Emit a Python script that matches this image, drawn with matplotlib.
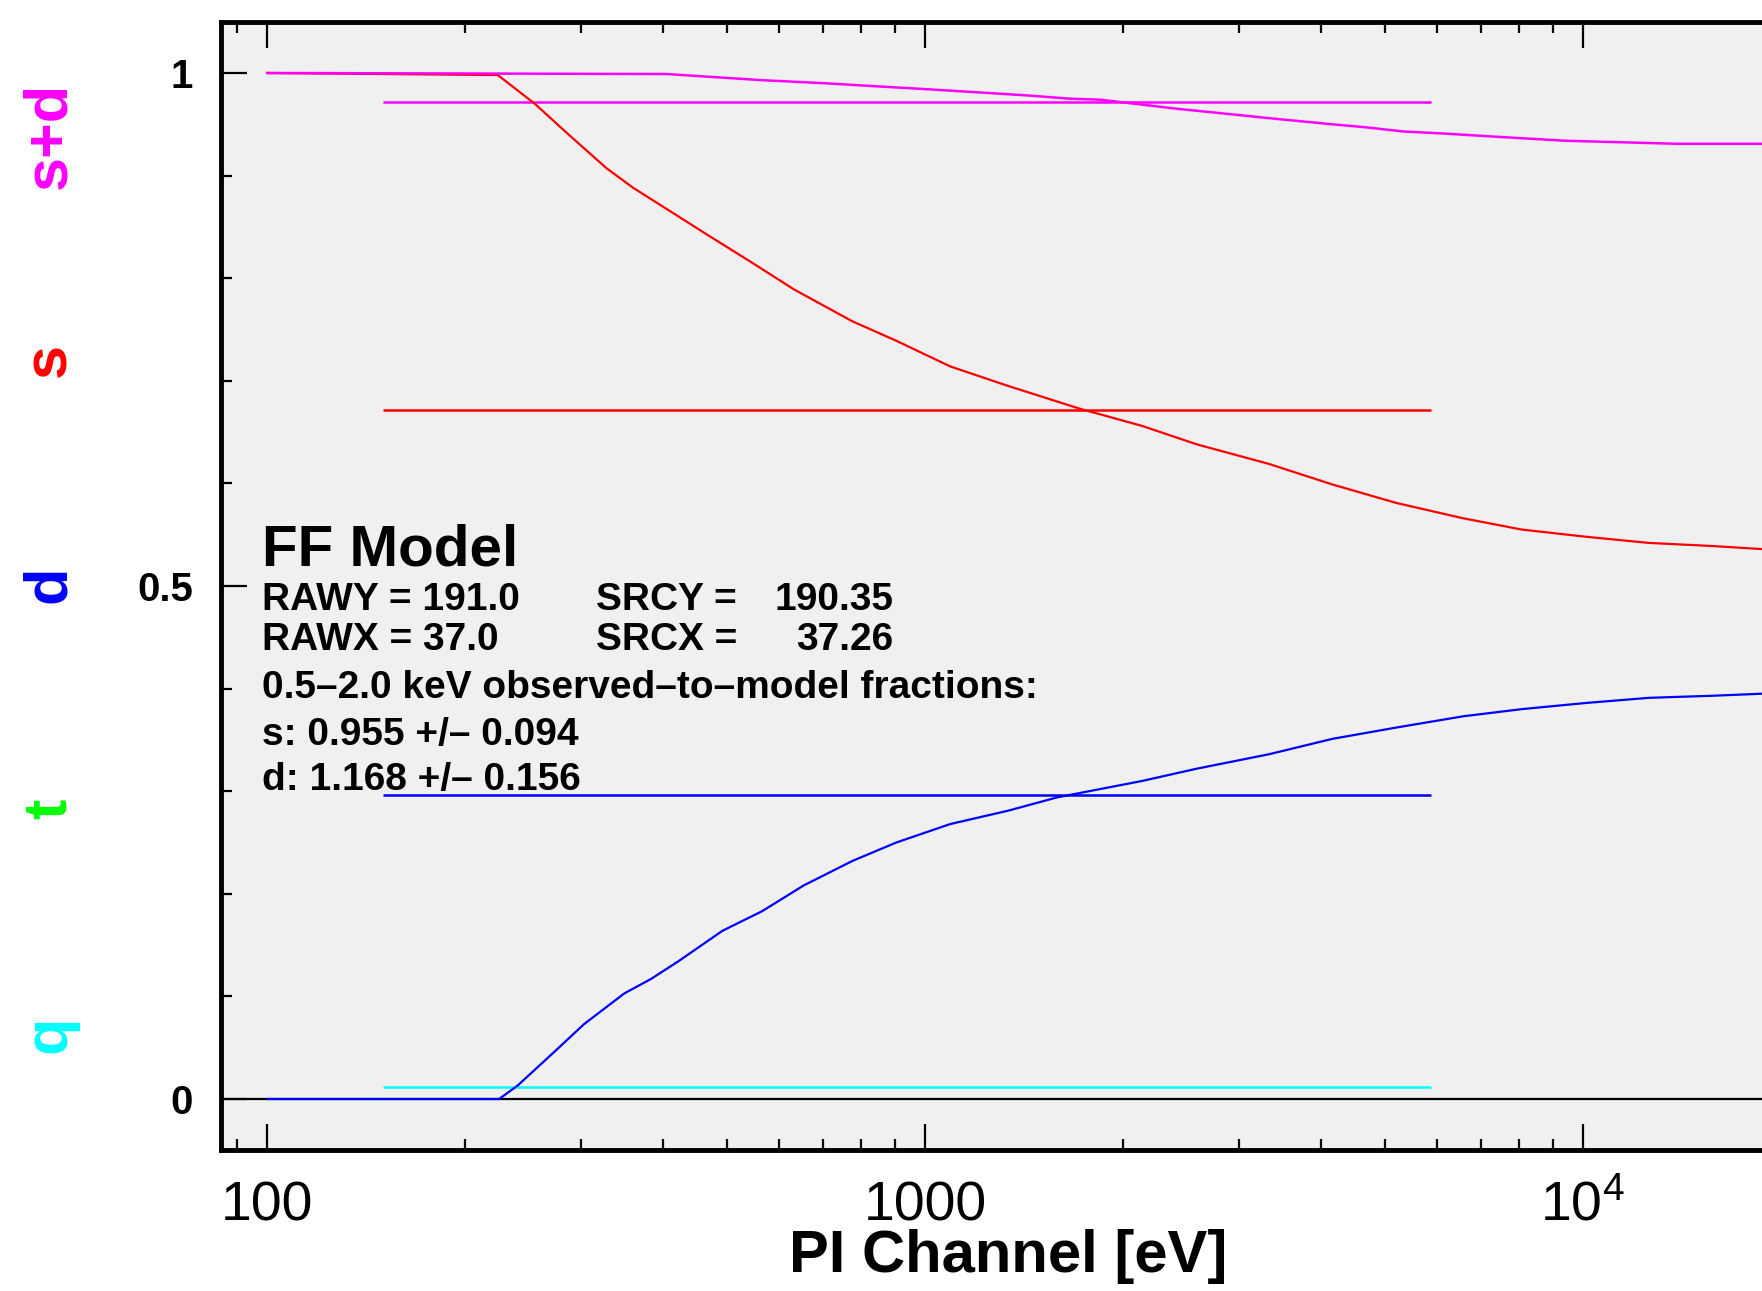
# FF model fractions vs PI channel
import matplotlib.pyplot as plt
from matplotlib.ticker import MultipleLocator

plt.rcParams['font.family'] = ['Liberation Sans', 'DejaVu Sans']
plt.rcParams['mathtext.fontset'] = 'custom'
plt.rcParams['mathtext.rm'] = 'Liberation Sans'
plt.rcParams['mathtext.default'] = 'regular'

# curves (PI channel in eV)
s_x = [100, 224, 255, 287, 328, 360, 408, 462, 549, 632, 775, 904, 1092, 1337, 1714,
       2138, 2590, 3332, 4159, 5200, 6577, 8077, 10110, 12600, 15700, 18700, 20000]
s_y = [1.0, 0.998, 0.970, 0.940, 0.907, 0.888, 0.866, 0.844, 0.814, 0.789, 0.758, 0.739, 0.714, 0.695, 0.673,
       0.656, 0.638, 0.619, 0.599, 0.581, 0.566, 0.555, 0.548, 0.542, 0.539, 0.536, 0.536]

d_x = [100, 225, 240, 272, 303, 349, 383, 421, 492, 565, 653, 775, 904, 1092, 1337, 1588,
       2138, 2590, 3332, 4159, 5200, 6577, 8077, 10110, 12600, 15700, 18700, 20000]
d_y = [0.0, 0.0, 0.013, 0.045, 0.073, 0.103, 0.117, 0.134, 0.164, 0.183, 0.208, 0.232, 0.250, 0.268, 0.281, 0.294,
       0.310, 0.322, 0.336, 0.351, 0.362, 0.373, 0.380, 0.386, 0.391, 0.393, 0.395, 0.395]

sd_x = [100, 404, 565, 705, 845, 1018, 1213, 1440, 1655, 1846, 2148, 2425, 2700, 3000, 3330,
        3720, 4160, 4690, 5330, 6150, 7330, 9370, 13900, 18700, 20000]
sd_y = [1.0, 0.999, 0.993, 0.990, 0.987, 0.984, 0.981, 0.978, 0.975, 0.974, 0.969, 0.965, 0.962, 0.959, 0.956,
        0.953, 0.950, 0.947, 0.943, 0.941, 0.938, 0.934, 0.931, 0.931, 0.931]

# band-averaged levels
band = [150, 5880]
level_sd = 0.972
level_s = 0.672
level_d = 0.296
level_q = 0.012

side_labels = ['s+d', 's', 'd', 't', 'q']
side_colors = ['#ff00ff', '#ff0000', '#0000ff', '#00ff00', '#00ffff']
side_ypix = [135, 360, 584, 809, 1034]

W, H = 1762, 1291
fig = plt.figure(figsize=(W / 100, H / 100), dpi=100)
ax = fig.add_axes([221 / W, 1 - 1150 / H, 0.951, (1150 - 22) / H])
ax.set_facecolor('#f0f0f0')

ax.axhline(0, color='black', lw=1.6, zorder=1)
ax.hlines(level_q, band[0], band[1], color='#00ffff', lw=1.8)
ax.hlines(level_d, band[0], band[1], color='#0000ff', lw=1.8)
ax.hlines(level_s, band[0], band[1], color='#ff0000', lw=1.8)
ax.hlines(level_sd, band[0], band[1], color='#ff00ff', lw=1.8)
ax.plot(d_x, d_y, color='#0000ff', lw=1.6)
ax.plot(s_x, s_y, color='#ff0000', lw=1.6)
ax.plot(sd_x, sd_y, color='#ff00ff', lw=1.8)

ax.set_xscale('log')
ax.set_xlim(85, 30000)
ax.set_ylim(-0.0497, 1.0497)
ax.set_xticks([100, 1000, 10000], labels=['100', '1000', r'$10^4$'])
ax.set_yticks([0, 0.5, 1], labels=['0', '0.5', '1'])
ax.yaxis.set_minor_locator(MultipleLocator(0.1))
ax.tick_params(which='both', direction='in', top=True, right=True, width=1.6)
ax.tick_params(which='major', length=19)
ax.tick_params(which='minor', length=8)
ax.tick_params(axis='x', labelsize=40, pad=22)
ax.tick_params(axis='y', labelsize=29, pad=20)
for lab in ax.get_yticklabels():
    lab.set_fontweight('bold')
for sp in ax.spines.values():
    sp.set_linewidth(3.5)

# text block
def ftext(xp, yp, s, **kw):
    fig.text(xp / W, 1 - yp / H, s, va='center', **kw)

ftext(262, 550, 'FF Model', fontsize=42, fontweight='bold')
ftext(262, 600, 'RAWY = 191.0', fontsize=28, fontweight='bold')
ftext(262, 640, 'RAWX = 37.0', fontsize=28, fontweight='bold')
ftext(596, 600, 'SRCY =', fontsize=28, fontweight='bold')
ftext(596, 640, 'SRCX =', fontsize=28, fontweight='bold')
ftext(893, 600, '190.35', fontsize=28, fontweight='bold', ha='right')
ftext(893, 640, '37.26', fontsize=28, fontweight='bold', ha='right')
ftext(262, 688, '0.5\u20132.0 keV observed\u2013to\u2013model fractions:', fontsize=28, fontweight='bold')
ftext(262, 735, 's: 0.955 +/\u2013 0.094', fontsize=28, fontweight='bold')
ftext(262, 780, 'd: 1.168 +/\u2013 0.156', fontsize=28, fontweight='bold')

ftext(1008, 1256, 'PI Channel [eV]', fontsize=43, fontweight='bold', ha='center')

for lab, col, yp in zip(side_labels, side_colors, side_ypix):
    ftext(50, yp, lab, fontsize=44, fontweight='bold', color=col, ha='center', rotation=90)

fig.savefig('out.png', dpi=100)
